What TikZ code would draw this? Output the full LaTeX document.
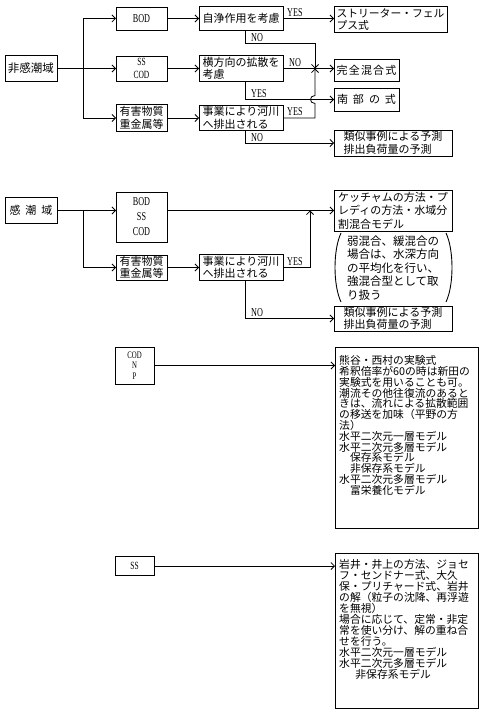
\documentclass[tikz,border=0pt]{standalone}
\usepackage{fontspec}
\setmainfont{Liberation Serif}
\newfontfamily\cjk{Noto Sans CJK JP}
\newfontfamily\latn[FakeStretch=0.68]{Liberation Serif}
\usetikzlibrary{arrows.meta,calc}
\begin{document}
\begin{tikzpicture}[x=1pt,y=-1pt,
  box/.style={draw,line width=0.9pt,inner sep=0pt,outer sep=0pt},
  jbox/.style={box,font=\cjk\fontsize{11}{12.5}\selectfont,align=left},
  lbox/.style={box,font=\latn\fontsize{12}{13}\selectfont,align=center},
  ln/.style={line width=0.8pt},
  arr/.style={ln,-{Straight Barb[length=3.5pt,width=7pt,line width=0.8pt]}},
  lab/.style={font=\latn\fontsize{12}{12}\selectfont,inner sep=0pt,anchor=south west},
  paren/.style={line width=0.9pt},
  bigtxt/.style={anchor=north west,inner sep=0pt,align=left}
]
\useasboundingbox (0,0) rectangle (484,714);

% ---------- section 1 ----------
\node[jbox,minimum width=52,minimum height=26,font=\cjk\fontsize{11.5}{12}\selectfont] (hi) at (31,68.5) {非感潮域};
\coordinate (t1) at (83,68.5);
\node[lbox,minimum width=51,minimum height=23] (bod1) at (141.5,18.5) {BOD};
\node[lbox,minimum width=51,minimum height=25,font=\latn\fontsize{11}{13}\selectfont] (sc1) at (141.5,68.5) {SS\\COD};
\node[jbox,minimum width=51,minimum height=27] (yg1) at (141.5,118) {有害物質\\重金属等};
\node[jbox,minimum width=84,minimum height=24] (jj) at (241,18.5) {自浄作用を考慮};
\node[jbox,minimum width=84,minimum height=26] (yk) at (241,68.5) {横方向の拡散を\\考慮};
\node[jbox,minimum width=84,minimum height=25] (jg1) at (241,118) {事業により河川\\へ排出される};
\node[jbox,minimum width=113,minimum height=26,font=\cjk\fontsize{10.8}{12.5}\selectfont] (st) at (390.5,19.5) {ストリーター・フェル\\プス式};
\node[jbox,minimum width=65,minimum height=22] (kz) at (366.5,70.5) {完\hspace{1.2pt}全\hspace{1.2pt}混\hspace{1.2pt}合\hspace{1.2pt}式};
\node[jbox,minimum width=65,minimum height=23] (nb) at (366.5,99.5) {南\hspace{5pt}部\hspace{5pt}の\hspace{5pt}式};
\node[jbox,minimum width=118,minimum height=26] (rj1) at (393,143) {類似事例による予測\\排出負荷量の予測};

\coordinate (k) at (245,43);
\coordinate (j) at (315,68.5);
\draw[ln] (hi.east) -- (t1);
\draw[ln] (t1 |- bod1.west) -- (t1 |- yg1.west);
\draw[arr] (t1 |- bod1.west) -- (bod1.west);
\draw[arr] (t1) -- (sc1.west);
\draw[arr] (t1 |- yg1.west) -- (yg1.west);
\draw[arr] (bod1.east) -- (jj.west);
\draw[arr] (sc1.east) -- (yk.west);
\draw[arr] (yg1.east) -- (jg1.west);
\draw[arr] (jj.east) -- (jj.east -| st.west);
\draw[arr] (k |- jj.south) -- (k) -| (j);
\draw[arr] (yk.east) -- (yk.east -| kz.west);
\draw[arr] (k |- yk.south) |- (nb.west);
\draw[arr] (jg1.east) -| (315,103.5) .. controls (309,103.5) and (309,95.5) .. (315,95.5) -- (j);
\draw[arr] (k |- jg1.south) |- (rj1.west);

\node[lab] (yes1) at (287,16.5) {YES};
\node[lab] (no1) at (251,41.5) {NO};
\node[lab] (no2) at (289,66.5) {NO};
\node[lab] (yes2) at (251,97.5) {YES};
\node[lab] (yes3) at (287,116) {YES};
\node[lab] (no3) at (251,141.5) {NO};

% ---------- section 2 ----------
\node[jbox,minimum width=52,minimum height=26,font=\cjk\fontsize{11}{12}\selectfont] (kn) at (31,210.5) {感\hspace{5pt}潮\hspace{5pt}域};
\coordinate (t2) at (83,210.5);
\node[lbox,minimum width=51,minimum height=50,font=\latn\fontsize{12}{15}\selectfont] (bod2) at (141.5,217) {BOD\\SS\\COD};
\node[jbox,minimum width=118,minimum height=41,font=\cjk\fontsize{11}{13.5}\selectfont] (kc) at (393,210.5) {ケッチャムの方法・プ\\レディの方法・水域分\\割混合モデル};
\node[font=\cjk\fontsize{11.5}{13.5}\selectfont,align=left,inner sep=0pt] (nt) at (393,268) {弱混合、緩混合の\\場合は、水深方向\\の平均化を行い、\\強混合型として取\\り扱う};
\draw[paren] (341,233) .. controls (333,250) and (333,285) .. (341,302);
\draw[paren] (446,233) .. controls (454,250) and (454,285) .. (446,302);
\node[jbox,minimum width=51,minimum height=25] (yg2) at (141.5,267.5) {有害物質\\重金属等};
\node[jbox,minimum width=84,minimum height=26] (jg2) at (241,267.5) {事業により河川\\へ排出される};
\node[jbox,minimum width=118,minimum height=25] (rj2) at (393,318.5) {類似事例による予測\\排出負荷量の予測};
\coordinate (m2) at (310,210.5);

\draw[ln] (kn.east) -- (t2) -- (t2 |- yg2.west);
\draw[arr] (t2) -- (bod2.west |- t2);
\draw[arr] (t2 |- yg2.west) -- (yg2.west);
\draw[arr] (bod2.east |- t2) -- (kc.west);
\draw[arr] (yg2.east) -- (jg2.west);
\draw[arr] (jg2.east) -| (m2);
\draw[arr] (k |- jg2.south) |- (rj2.west);
\node[lab] (yes4) at (287,265.5) {YES};
\node[lab] (no4) at (251,316.5) {NO};

% ---------- section 3 ----------
\node[lbox,minimum width=39,minimum height=37,font=\latn\fontsize{10}{10.5}\selectfont] (cnp) at (134.5,365.5) {COD\\N\\P};
\node[box,minimum width=143,minimum height=181] (kb) at (406.5,437.5) {};
\node[bigtxt,font=\cjk\fontsize{10.8}{10.8}\selectfont] (kt) at ($(kb.north west)+(4,8.5)$) {熊谷・西村の実験式\\希釈倍率が60の時は新田の\\実験式を用いることも可。\\潮流その他往復流のあると\\きは、流れによる拡散範囲\\の移送を加味（平野の方\\法）\\水平二次元一層モデル\\水平二次元多層モデル\\\hspace*{1em}保存系モデル\\\hspace*{1em}非保存系モデル\\水平二次元多層モデル\\\hspace*{1em}富栄養化モデル};
\draw[arr] (cnp.east) -- (cnp.east -| kb.west);

% ---------- section 4 ----------
\node[lbox,minimum width=39,minimum height=19,font=\latn\fontsize{11}{12}\selectfont] (ss) at (134.5,566) {SS};
\node[box,minimum width=143,minimum height=155] (ib) at (406.5,630.5) {};
\node[bigtxt,font=\cjk\fontsize{10.8}{11}\selectfont] (it) at ($(ib.north west)+(4,6.5)$) {岩井・井上の方法、ジョセ\\フ・センドナー式、大久\\保・プリチャード式、岩井\\の解（粒子の沈降、再浮遊\\を無視）\\場合に応じて、定常・非定\\常を使い分け、解の重ね合\\せを行う。\\水平二次元一層モデル\\水平二次元多層モデル\\\hspace*{1.5em}非保存系モデル};
\draw[arr] (ss.east) -- (ss.east -| ib.west);
\end{tikzpicture}
\end{document}
